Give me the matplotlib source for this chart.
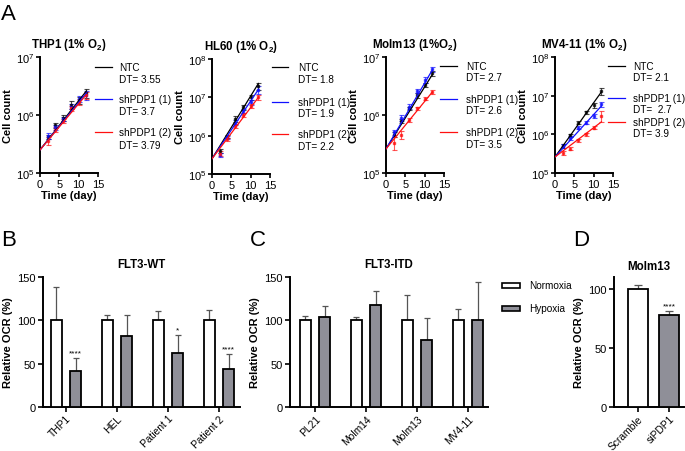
import matplotlib
matplotlib.use("Agg")
import matplotlib.pyplot as plt
from matplotlib.lines import Line2D
from matplotlib.patches import Rectangle
import numpy as np

plt.rcParams['font.family'] = ['Liberation Sans', 'DejaVu Sans']
plt.rcParams['mathtext.fontset'] = 'custom'
plt.rcParams['mathtext.rm'] = 'Liberation Sans'
plt.rcParams['mathtext.bf'] = 'Liberation Sans:bold'

# ---------------- Panel A data ----------------
days = [2, 4, 6, 8, 10, 12]
fit_days = [0, 12]
series_names = ["NTC", "shPDP1 (1)", "shPDP1 (2)"]
series_colors = ["#000000", "#1010ff", "#ff1010"]

a_titles = [r"THP1 (1% O$_{\mathbf{2}}$)", r"HL60 (1% O$_{\mathbf{2}}$)",
            r"Molm13 (1%O$_{\mathbf{2}}$)", r"MV4-11 (1% O$_{\mathbf{2}}$)"]
a_dt = [["3.55", "3.7", "3.79"], ["1.8", "1.9", "2.2"],
        ["2.7", "2.6", "3.5"], ["2.1", " 2.7", "3.9"]]
a_ylim_top = [1e7, 1e8, 1e7, 1e8]

thp1_ntc = [4.2e5, 6.6e5, 9.0e5, 1.5e6, 1.8e6, 2.4e6]
thp1_ntc_err = [0.4e5, 0.6e5, 1.0e5, 2.5e5, 2.5e5, 0.4e6]
thp1_sh1 = [4.4e5, 6.2e5, 8.6e5, 1.4e6, 1.9e6, 2.2e6]
thp1_sh1_err = [0.5e5, 0.6e5, 0.8e5, 1.5e5, 2.5e5, 0.4e6]
thp1_sh2 = [3.6e5, 5.6e5, 8.0e5, 1.3e6, 1.7e6, 2.2e6]
thp1_sh2_err = [0.5e5, 0.5e5, 0.7e5, 1.5e5, 2.0e5, 0.3e6]
thp1_fit = [[2.5e5, 2.6e6], [2.5e5, 2.4e6], [2.5e5, 2.25e6]]

hl60_ntc = [4.0e5, 9.5e5, 2.8e6, 5.5e6, 1.0e7, 2.0e7]
hl60_ntc_err = [0.5e5, 1.0e5, 0.5e6, 0.8e6, 1.5e6, 0.4e7]
hl60_sh1 = [3.2e5, 9.0e5, 2.2e6, 4.5e6, 7.5e6, 1.6e7]
hl60_sh1_err = [0.4e5, 1.0e5, 0.3e6, 0.6e6, 1.0e6, 0.4e7]
hl60_sh2 = [3.4e5, 8.0e5, 1.8e6, 3.5e6, 6.0e6, 1.0e7]
hl60_sh2_err = [0.5e5, 0.8e5, 0.2e6, 0.4e6, 0.7e6, 0.15e7]
hl60_fit = [[2.5e5, 2.3e7], [2.5e5, 1.6e7], [2.5e5, 1.0e7]]

molm_ntc = [4.6e5, 8.0e5, 1.3e6, 2.2e6, 3.3e6, 5.2e6]
molm_ntc_err = [0.4e5, 0.7e5, 1.0e5, 2.0e5, 3.0e5, 0.5e6]
molm_sh1 = [5.0e5, 9.0e5, 1.4e6, 2.6e6, 4.0e6, 6.2e6]
molm_sh1_err = [0.5e5, 1.0e5, 1.2e5, 2.5e5, 5.0e5, 0.6e6]
molm_sh2 = [3.3e5, 4.6e5, 8.2e5, 1.3e6, 1.9e6, 2.5e6]
molm_sh2_err = [0.8e5, 0.8e5, 0.6e5, 1.0e5, 1.2e5, 0.2e6]
molm_fit = [[2.6e5, 5.0e6], [2.6e5, 6.0e6], [2.6e5, 2.5e6]]

mv4_ntc = [5.0e5, 9.5e5, 2.0e6, 3.7e6, 5.6e6, 1.3e7]
mv4_ntc_err = [0.5e5, 1.0e5, 0.2e6, 0.4e6, 0.8e6, 0.25e7]
mv4_sh1 = [5.0e5, 8.0e5, 1.5e6, 2.0e6, 3.0e6, 6.0e6]
mv4_sh1_err = [0.5e5, 0.8e5, 0.15e6, 0.2e6, 0.3e6, 1.0e6]
mv4_sh2 = [3.3e5, 4.3e5, 7.0e5, 1.0e6, 1.5e6, 3.0e6]
mv4_sh2_err = [0.3e5, 0.4e5, 0.6e5, 0.1e6, 0.15e6, 0.9e6]
mv4_fit = [[2.6e5, 1.25e7], [2.6e5, 5.4e6], [2.6e5, 2.1e6]]

# ---------------- Panels B, C, D data ----------------
b_labels = ["THP1", "HEL", "Patient 1", "Patient 2"]
b_norm = [100, 100, 100, 100]
b_norm_err = [38, 6, 11, 12]
b_hyp = [42, 82, 62, 44]
b_hyp_err = [14, 24, 21, 17]
b_sig = ["****", "", "*", "****"]

c_labels = ["PL21", "Molm14", "Molm13", "MV4-11"]
c_norm = [100, 100, 100, 100]
c_norm_err = [5, 4, 29, 13]
c_hyp = [104, 118, 77, 100]
c_hyp_err = [13, 16, 26, 44]

d_labels = ["Scramble", "siPDP1"]
d_vals = [100, 77.5]
d_err = [3.5, 3.5]
d_sig = ["", "****"]

W, H = 685, 452
fig = plt.figure(figsize=(W / 100, H / 100), dpi=100)

FT = 8.3   # titles
FL = 8.0   # axis labels
FK = 8.0   # tick labels
FX = 7.4   # rotated category labels
FG = 7.2   # legend text


def ax_at(x0, y0, x1, y1):
    return fig.add_axes([x0 / W, 1 - y1 / H, (x1 - x0) / W, (y1 - y0) / H])


def fx(px):
    return px / W


def fy(py):
    return 1 - py / H


GRAY = "#8f8f98"
SPW = 1.4

# ---------- Panel A ----------
a_boxes = [(40, 58, 98, 174), (212, 60, 270, 175), (386, 58, 444, 174), (555, 58, 613, 174)]
a_means = [[thp1_ntc, thp1_sh1, thp1_sh2], [hl60_ntc, hl60_sh1, hl60_sh2],
           [molm_ntc, molm_sh1, molm_sh2], [mv4_ntc, mv4_sh1, mv4_sh2]]
a_errs = [[thp1_ntc_err, thp1_sh1_err, thp1_sh2_err], [hl60_ntc_err, hl60_sh1_err, hl60_sh2_err],
          [molm_ntc_err, molm_sh1_err, molm_sh2_err], [mv4_ntc_err, mv4_sh1_err, mv4_sh2_err]]
a_fits = [thp1_fit, hl60_fit, molm_fit, mv4_fit]
leg_line_x = [(95, 112, 119), (272, 288, 298), (440, 457, 466), (608, 625, 633)]
leg_y = [[(68, 80), (100, 112), (133, 146)], [(68, 80), (103, 114), (135, 147)],
         [(67, 78), (100, 111), (133, 145)], [(67, 78), (99, 110), (123, 134)]]

for i, box in enumerate(a_boxes):
    ax = ax_at(*box)
    ax.set_yscale("log")
    for k in range(3):
        c = series_colors[k]
        ax.plot(fit_days, a_fits[i][k], color=c, lw=0.9, zorder=3)
        ax.errorbar(days, a_means[i][k], yerr=a_errs[i][k], fmt="s", ms=1.8,
                    color=c, ecolor=c, elinewidth=0.8, capsize=1.8, capthick=0.8,
                    alpha=0.7, zorder=2)
    ax.set_xlim(0, 15)
    ax.set_ylim(1e5, a_ylim_top[i])
    ax.set_xticks([0, 5, 10, 15])
    ax.yaxis.set_minor_locator(matplotlib.ticker.NullLocator())
    ax.yaxis.set_major_locator(matplotlib.ticker.LogLocator(base=10, numticks=10))
    ax.tick_params(labelsize=FK, length=3, width=1.2, pad=1)
    for s in ["top", "right"]:
        ax.spines[s].set_visible(False)
    for s in ["left", "bottom"]:
        ax.spines[s].set_linewidth(SPW)
    ax.set_title(a_titles[i], fontsize=FT, fontweight="bold", pad=7)
    ax.set_ylabel("Cell count", fontsize=FL, fontweight="bold", labelpad=2)
    ax.set_xlabel("Time (day)", fontsize=FL, fontweight="bold", labelpad=1)
    lx0, lx1, tx = leg_line_x[i]
    for k in range(3):
        y1, y2 = leg_y[i][k]
        fig.add_artist(Line2D([fx(lx0), fx(lx1)], [fy(y1), fy(y1)], color=series_colors[k], lw=0.9))
        fig.text(fx(tx), fy(y1), series_names[k], fontsize=FG, va="center", ha="left")
        fig.text(fx(tx), fy(y2), "DT= " + a_dt[i][k], fontsize=FG, va="center", ha="left")


# ---------- Bar panels ----------
def style_bar_axes(ax, title, pad):
    ax.tick_params(labelsize=FK, length=3.5, width=1.2, pad=1.5)
    ax.tick_params(axis="x", labelsize=FX, pad=1)
    for s in ["top", "right"]:
        ax.spines[s].set_visible(False)
    for s in ["left", "bottom"]:
        ax.spines[s].set_linewidth(SPW)
    ax.set_title(title, fontsize=FT, fontweight="bold", pad=pad)
    ax.set_ylabel("Relative OCR (%)", fontsize=FL, fontweight="bold", labelpad=3)


def bar_panel(box, labels, norm, norm_err, hyp, hyp_err, title, sig, xlim):
    ax = ax_at(*box)
    x = np.arange(len(labels))
    off, bw = 0.19, 0.22
    ax.bar(x - off, norm, width=bw, color="white", edgecolor="black", lw=1.3, zorder=3)
    ax.bar(x + off, hyp, width=bw, color=GRAY, edgecolor="black", lw=1.3, zorder=3)
    ax.errorbar(x - off, norm, yerr=[np.zeros(len(x)), norm_err], fmt="none",
                ecolor="#555555", elinewidth=0.9, capsize=2.3, capthick=0.9, zorder=2)
    ax.errorbar(x + off, hyp, yerr=[np.zeros(len(x)), hyp_err], fmt="none",
                ecolor="#555555", elinewidth=0.9, capsize=2.3, capthick=0.9, zorder=2)
    if sig is not None:
        for j in range(len(x)):
            if sig[j]:
                ax.text(x[j] + off, hyp[j] + hyp_err[j] + 2, sig[j], ha="center",
                        va="bottom", fontsize=6)
    ax.set_xlim(*xlim)
    ax.set_ylim(0, 150)
    ax.set_yticks([0, 50, 100, 150])
    ax.set_xticks(x)
    ax.set_xticklabels(labels, rotation=45, ha="right", rotation_mode="anchor")
    style_bar_axes(ax, title, 7)
    return ax


bar_panel((43, 278, 240, 408), b_labels, b_norm, b_norm_err, b_hyp, b_hyp_err,
          "FLT3-WT", b_sig, (-0.45, 3.41))
bar_panel((290, 278, 488, 408), c_labels, c_norm, c_norm_err, c_hyp, c_hyp_err,
          "FLT3-ITD", None, (-0.49, 3.39))

# legend for B/C
for yy, col, lab in [(286, "white", "Normoxia"), (309, GRAY, "Hypoxia")]:
    fig.add_artist(Rectangle((fx(502), fy(yy + 2.5)), 18 / W, 5 / H, facecolor=col,
                             edgecolor="black", lw=1.2))
    fig.text(fx(529), fy(yy), lab, fontsize=FG, va="center", ha="left")

# Panel D
axd = ax_at(614, 278, 684, 408)
xd = np.arange(len(d_labels))
axd.bar(xd, d_vals, width=0.62, color=["white", GRAY], edgecolor="black", lw=1.3, zorder=3)
axd.errorbar(xd, d_vals, yerr=[np.zeros(len(xd)), d_err], fmt="none", ecolor="#555555",
             elinewidth=0.9, capsize=3, capthick=0.9, zorder=2)
for j in range(len(xd)):
    if d_sig[j]:
        axd.text(xd[j], d_vals[j] + d_err[j] + 1.5, d_sig[j], ha="center", va="bottom", fontsize=6)
axd.set_xlim(-0.77, 1.48)
axd.set_ylim(0, 110)
axd.set_yticks([0, 50, 100])
axd.set_xticks(xd)
axd.set_xticklabels(d_labels, rotation=45, ha="right", rotation_mode="anchor")
style_bar_axes(axd, "Molm13", 6)

# panel letters
for lab, px, py in [("A", 1, 15), ("B", 1, 240), ("C", 250, 240), ("D", 573, 240)]:
    fig.text(fx(px), fy(py), lab, fontsize=16, va="center", ha="left")

fig.savefig("out.png", dpi=100)
